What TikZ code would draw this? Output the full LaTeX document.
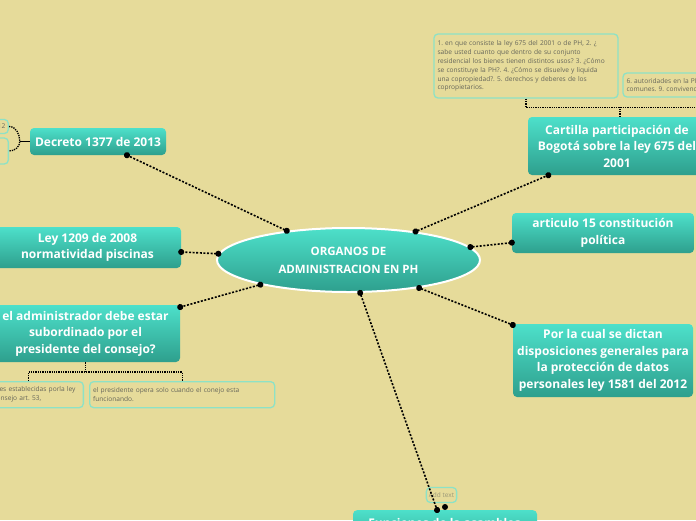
\documentclass[tikz,border=0pt]{standalone}
\usepackage{fontspec}
\setmainfont{Open Sans}
\usetikzlibrary{shapes.geometric,arrows.meta}
\frenchspacing
\definecolor{fondo}{HTML}{E6DB9A}
\definecolor{turqarriba}{HTML}{4DE0CA}
\definecolor{turqabajo}{HTML}{2E9F8D}
\definecolor{borde}{HTML}{8DE2C6}
\definecolor{textogris}{HTML}{66665A}
\definecolor{grisclaro}{HTML}{9A9878}
\tikzset{
  topic/.style={rectangle, rounded corners=4pt, top color=turqarriba, bottom color=turqabajo,
    text=white, font=\bfseries\fontsize{12}{16.5}\selectfont, align=center, inner sep=2pt},
  central/.style={ellipse, draw=white, line width=2pt, top color=turqarriba, bottom color=turqabajo,
    minimum width=263pt, minimum height=64pt, inner sep=0pt, text=white,
    font=\bfseries\fontsize{11.5}{18}\selectfont, align=center},
  subbox/.style={rectangle, rounded corners=4pt, draw=borde, line width=1.3pt, text=textogris,
    font=\fontsize{6.6}{8.9}\selectfont, align=left, inner sep=3pt},
  link/.style={line width=1.6pt, dash pattern=on 2pt off 1.6pt,
    {Circle[length=6pt]}-{Circle[length=6pt]}, shorten <=-3pt, shorten >=-3pt},
  brace/.style={line width=1.3pt, dash pattern=on 1.3pt off 1pt}
}

\begin{document}
\begin{tikzpicture}[x=1pt,y=-1pt]

% Background
\useasboundingbox (0,0) rectangle (696,520);
\fill[fondo] (0,0) rectangle (696,520);
\clip (0,0) rectangle (696,520);

% Central topic
\node[central] (centro) at (348.5,260) {ORGANOS DE\\ADMINISTRACION EN PH};

% Main topics
\node[topic, minimum width=136pt, minimum height=27pt] (decreto) at (98,141.5) {Decreto 1377 de 2013};
\node[topic, minimum width=187pt, minimum height=41pt] (ley) at (87.5,247.5) {Ley 1209 de 2008\\normatividad piscinas};
\node[topic, minimum width=189pt, minimum height=57pt] (admin) at (85.5,333.5) {el administrador debe estar\\subordinado por el\\presidente del consejo?};
\node[topic, minimum width=178pt, minimum height=58pt] (cartilla) at (617,146) {Cartilla participación de\\Bogotá sobre la ley 675 del\\2001};
\node[topic, minimum width=182pt, minimum height=40pt] (articulo) at (603,233) {articulo 15 constitución\\política};
\node[topic, minimum width=180pt, minimum height=73pt] (datos) at (603,360.5) {Por la cual se dictan\\disposiciones generales para\\la protección de datos\\personales ley 1581 del 2012};
\node[topic, minimum width=184pt, minimum height=40pt, anchor=north, inner ysep=8pt] (funciones) at (445,510) {Funciones de la asamblea\\general de copropietarios};

% Subtopics
\node[subbox, minimum width=184pt, minimum height=64pt, text width=177pt] (preguntas) at (526,66) {1. en que consiste la ley 675 del 2001 o de PH, 2. ¿\\sabe usted cuanto que dentro de su conjunto\\residencial los bienes tienen distintos usos? 3. ¿Cómo\\se constituye la PH?. 4. ¿Cómo se disuelve y liquida\\una copropiedad?. 5. derechos y deberes de los\\copropietarios.};
\node[subbox, minimum width=180pt, minimum height=24pt, text width=173pt] (autoridades) at (713,85) {6. autoridades en la PH. 7. y 8. bienes\\comunes. 9. convivencia.};
\node[subbox, minimum height=14pt, anchor=east] (decA) at (9,126.5) {ley 1581 de 2012};
\node[subbox, minimum height=26pt, anchor=east, text width=60pt] (decB) at (9,151) {datos sensibles\\y menores};
\node[subbox, minimum height=26pt, anchor=north east, text width=104pt] (funcley) at (84,381) {funciones establecidas porla ley\\y del consejo art. 53,};
\node[subbox, minimum width=185pt, minimum height=26pt, text width=178pt, anchor=north west] (presidente) at (89,381) {el presidente opera solo cuando el conejo esta\\funcionando.};
\node[subbox, font=\fontsize{6.5}{8}\selectfont, text=grisclaro, inner sep=2.5pt, minimum height=15pt] (addtext) at (441.5,495) {Add text};

% Connectors
\draw[link] (centro) -- (decreto);
\draw[link] (centro) -- (ley);
\draw[link] (centro) -- (admin);
\draw[link] (centro) -- (cartilla);
\draw[link] (centro) -- (articulo);
\draw[link] (centro) -- (datos);
\draw[link] (centro) -- (funciones);
\fill ([yshift=3pt]funciones.north) circle (3pt);

% Brackets
\draw[brace] (preguntas.south) -- ++(0,9) -| (autoridades.south);
\draw[brace] ([xshift=3pt]cartilla.north) -- ++(0,-10);
\draw[brace] (funcley.north) -- ++(0,-9) -| (presidente.north);
\draw[brace] (admin.south) -- ++(0,10);
\draw[brace] (decA.east) to[out=0,in=90] ([xshift=-10pt]decreto.west) to[out=-90,in=0] (decB.east);
\draw[line width=1pt] ([xshift=-10pt]decreto.west) -- (decreto.west);

\end{tikzpicture}
\end{document}
